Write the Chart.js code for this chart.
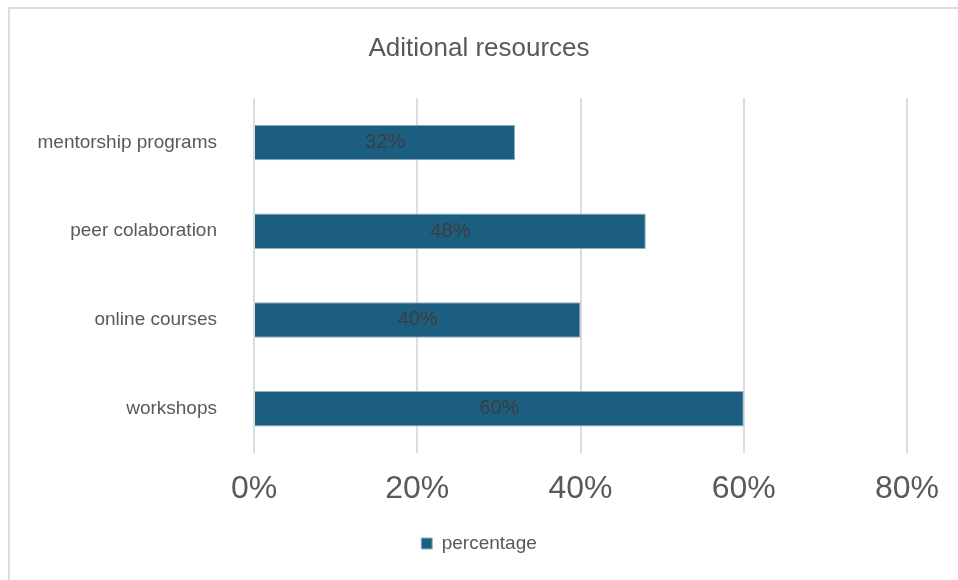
<!DOCTYPE html>
<html>
<head>
<meta charset="utf-8">
<script src="https://cdn.jsdelivr.net/npm/chart.js@4"></script>
<style>
  html, body { margin: 0; padding: 0; background: #fff; }
  #wrap { position: relative; width: 958px; height: 580px; }
  #frame {
    position: absolute; left: 8px; top: 7px; right: 0; bottom: 0;
    border-top: 2px solid #dcdcdc; border-left: 2px solid #dcdcdc;
  }
  canvas { position: absolute; left: 0; top: 0; }
</style>
</head>
<body>
<div id="wrap">
  <div id="frame"></div>
  <canvas id="resourcesChart" width="958" height="580"></canvas>
</div>
<script>
const categories = ['mentorship programs', 'peer colaboration', 'online courses', 'workshops'];
const percentage = [32, 48, 40, 60];
const xTicks = [0, 20, 40, 60, 80];

const FONT = "'Liberation Sans', Arial, sans-serif";
const GREY = '#595959';

// value labels centred inside each bar
const barLabels = {
    id: 'barLabels',
    afterDatasetsDraw(chart) {
        const ctx = chart.ctx;
        const meta = chart.getDatasetMeta(0);
        ctx.save();
        ctx.font = '20px ' + FONT;
        ctx.fillStyle = '#3d3d3d';
        ctx.textAlign = 'center';
        ctx.textBaseline = 'middle';
        meta.data.forEach(function (bar, i) {
            ctx.fillText(percentage[i] + '%', (bar.x + bar.base) / 2, bar.y);
        });
        ctx.restore();
    }
};

new Chart(document.getElementById('resourcesChart'), {
    type: 'bar',
    data: {
        labels: categories,
        datasets: [{
            label: 'percentage',
            data: percentage,
            backgroundColor: '#1b5e7f',
            borderColor: '#8db2c6',
            borderWidth: 1,
            categoryPercentage: 0.4,
            barPercentage: 1
        }]
    },
    options: {
        indexAxis: 'y',
        responsive: false,
        animation: false,
        layout: { padding: { left: 0, right: 0, top: 0, bottom: 17 } },
        plugins: {
            title: {
                display: true,
                text: 'Aditional resources',
                color: GREY,
                font: { family: FONT, size: 26, weight: 'normal' },
                padding: { top: 33, bottom: 34 }
            },
            legend: {
                position: 'bottom',
                labels: {
                    color: GREY,
                    font: { family: FONT, size: 19 },
                    boxWidth: 11,
                    boxHeight: 11,
                    padding: 10
                }
            },
            tooltip: { enabled: false }
        },
        scales: {
            x: {
                min: 0,
                max: 80,
                afterBuildTicks: function (axis) {
                    axis.ticks = xTicks.map(function (v) { return { value: v }; });
                },
                afterFit: function (axis) { axis.height = 71; },
                grid: { color: '#dcdcdc', lineWidth: 2, drawTicks: false },
                border: { display: false },
                ticks: {
                    color: GREY,
                    font: { family: FONT, size: 32 },
                    padding: 17,
                    callback: function (v) { return v + '%'; }
                }
            },
            y: {
                afterFit: function (axis) { axis.width = 254; },
                grid: { display: false, drawTicks: false },
                border: { display: false },
                ticks: {
                    color: GREY,
                    font: { family: FONT, size: 19 },
                    padding: 37
                }
            },
            // empty right-hand margin so title and legend centre on the whole canvas
            yRight: {
                position: 'right',
                afterFit: function (axis) { axis.width = 51; },
                grid: { display: false, drawTicks: false },
                border: { display: false },
                ticks: { display: false }
            }
        }
    },
    plugins: [barLabels]
});
</script>
</body>
</html>
